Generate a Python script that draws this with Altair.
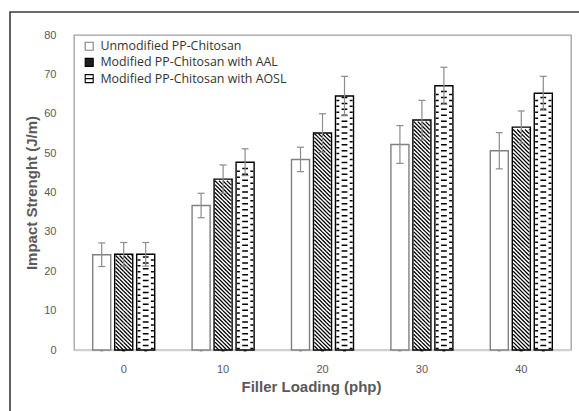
import altair as alt
import pandas as pd

# ---------------- data ----------------
LOADINGS = ["0", "10", "20", "30", "40"]
SERIES = [
    "Unmodified PP-Chitosan",
    "Modified PP-Chitosan with AAL",
    "Modified PP-Chitosan with AOSL",
]
UNMOD = [24.2, 36.7, 48.4, 52.2, 50.6]
AAL = [24.3, 43.4, 55.1, 58.4, 56.6]
AOSL = [24.3, 47.7, 64.5, 67.1, 65.2]
UNMOD_ERR = [3.0, 3.1, 3.1, 4.8, 4.6]
AAL_ERR = [3.0, 3.6, 4.9, 5.0, 4.1]
AOSL_ERR = [3.0, 3.4, 5.0, 4.7, 4.3]
Y_TICKS = [0, 10, 20, 30, 40, 50, 60, 70, 80]

rows = []
for s, vals, errs in zip(SERIES, [UNMOD, AAL, AOSL], [UNMOD_ERR, AAL_ERR, AOSL_ERR]):
    for l, v, e in zip(LOADINGS, vals, errs):
        rows.append({"loading": l, "series": s, "value": v, "lo": v - e, "hi": v + e})
df = pd.DataFrame(rows)

# ---------------- layout ----------------
PLOT_W, PLOT_H = 497, 315
PX_PER_UNIT = PLOT_H / 80.0
X_PAD_IN = 0.376
OFF_PAD_IN = 0.18
STEP = PLOT_W / 5.0
BAND = STEP * (1 - X_PAD_IN)
BAR_W = BAND / (3 - OFF_PAD_IN) * (1 - OFF_PAD_IN)
HALF = BAR_W / 2.0

GRAY = "#595959"


def hatch_path(tile_px, L=0.9):
    h = tile_px / HALF
    segs = []
    x0 = -L - h
    while x0 < L:
        xa, ya = x0, -h / 2
        xb, yb = x0 + h, h / 2
        if xa < -L:
            ya += (-L - xa)
            xa = -L
        if xb > L:
            yb -= (xb - L)
            xb = L
        if xb > xa + 1e-6:
            segs.append(f"M{xa:.3f},{ya:.3f}L{xb:.3f},{yb:.3f}")
        x0 += h
    return "".join(segs)


def dash_path(tile_px):
    h = tile_px / HALF
    ya = -h / 4
    yb = h / 4
    return (f"M-0.32,{ya:.3f}L0.32,{ya:.3f}"
            f"M-0.9,{yb:.3f}L-0.58,{yb:.3f}M0.58,{yb:.3f}L0.9,{yb:.3f}")


HATCH_UNIT = 1.0
DASH_UNIT = 1.5
HATCH = hatch_path(HATCH_UNIT * PX_PER_UNIT)
DASH = dash_path(DASH_UNIT * PX_PER_UNIT)

x_enc = alt.X(
    "loading:N",
    sort=LOADINGS,
    title="Filler Loading (php)",
    scale=alt.Scale(paddingInner=X_PAD_IN, paddingOuter=X_PAD_IN / 2),
    axis=alt.Axis(
        labelAngle=0, ticks=False, domainColor="#d0d0d0", domainWidth=1.3,
        labelPadding=13, titlePadding=5, labelFont="Liberation Sans",
        labelFontSize=11, labelColor=GRAY, titleFont="Liberation Sans",
        titleFontSize=15, titleFontWeight="bold", titleColor=GRAY,
        titleX=237,
    ),
)
xo_enc = alt.XOffset(
    "series:N", sort=SERIES,
    scale=alt.Scale(domain=SERIES, paddingInner=OFF_PAD_IN, paddingOuter=0),
)
YT = "Impact Strenght (J/m)"
y_scale = alt.Scale(domain=[0, 80], nice=False)
y_axis = alt.Axis(
    values=Y_TICKS, tickCount=9, ticks=False, domain=False, grid=False,
    labelOverlap=False, labelPadding=18, titlePadding=4,
    labelFont="Liberation Sans", labelFontSize=11, labelColor=GRAY,
    titleFont="Liberation Sans", titleFontSize=15, titleFontWeight="bold",
    titleColor=GRAY,
)


def Y(field):
    return alt.Y(field, scale=y_scale, axis=y_axis, title=YT)


stroke_scale = alt.Scale(domain=SERIES, range=["#808080", "#000000", "#000000"])
fill_scale = alt.Scale(domain=SERIES, range=["#ffffff", "#1e1e1e", "#ffffff"])
shape_scale = alt.Scale(
    domain=SERIES,
    range=["square", "M-1,-1H1V1H-1Z", "M-1,-1H1V1H-1ZM-1,0H1"],
)

base = alt.Chart(df)

legend_layer = base.transform_calculate(zero="0").mark_point(
    filled=True, size=1
).encode(
    x=x_enc, xOffset=xo_enc,
    y=Y("zero:Q"),
    fill=alt.Fill("series:N", sort=SERIES, scale=fill_scale, title=None),
    stroke=alt.Stroke("series:N", sort=SERIES, scale=stroke_scale, title=None),
    shape=alt.Shape("series:N", sort=SERIES, scale=shape_scale, title=None),
)

bars = base.mark_bar(fill="#ffffff", strokeWidth=0).encode(
    x=x_enc, xOffset=xo_enc, y=Y("value:Q"),
)

hatch = base.transform_filter(
    alt.datum.series == SERIES[1]
).transform_calculate(
    seq=f"sequence({HATCH_UNIT / 2}, datum.value - {HATCH_UNIT / 2 - 0.01}, {HATCH_UNIT})"
).transform_flatten(["seq"]).mark_point(
    shape=HATCH, size=BAR_W * BAR_W, filled=False, color="#000000",
    strokeWidth=1.25, opacity=1,
).encode(
    x=x_enc, xOffset=xo_enc, y=Y("seq:Q"),
)

dashes = base.transform_filter(
    alt.datum.series == SERIES[2]
).transform_calculate(
    seq=f"sequence({DASH_UNIT / 2}, datum.value - {DASH_UNIT / 2 - 0.01}, {DASH_UNIT})"
).transform_flatten(["seq"]).mark_point(
    shape=DASH, size=BAR_W * BAR_W, filled=False, color="#000000",
    strokeWidth=1.5, opacity=1,
).encode(
    x=x_enc, xOffset=xo_enc, y=Y("seq:Q"),
)

outline = base.mark_bar(fillOpacity=0, strokeWidth=1.4).encode(
    x=x_enc, xOffset=xo_enc, y=Y("value:Q"),
    stroke=alt.Stroke("series:N", sort=SERIES, scale=stroke_scale, title=None),
)

err_rule = base.mark_rule(color="#8c8c8c", strokeWidth=1.2).encode(
    x=x_enc, xOffset=xo_enc, y=Y("lo:Q"), y2="hi:Q",
)

caps = base.transform_fold(["lo", "hi"], as_=["end", "pos"]).mark_tick(
    color="#8c8c8c", thickness=1.2, size=7, opacity=1
).encode(
    x=x_enc, xOffset=xo_enc, y=Y("pos:Q"),
)

frame_data = alt.Data(values=[{"k": 0}])
frame = alt.Chart(frame_data).mark_rect(
    fillOpacity=0, stroke="#3a3a3a", strokeWidth=1.6
).encode(
    x=alt.value(-64), x2=alt.value(530), y=alt.value(-23), y2=alt.value(420)
)

chart = alt.layer(
    legend_layer, bars, hatch, dashes, outline, err_rule, caps, frame
).properties(
    width=PLOT_W, height=PLOT_H,
    autosize=alt.AutoSizeParams(type="none"),
    padding={"left": 74, "top": 35, "right": 8, "bottom": 61},
    background="#ffffff",
).configure_view(
    stroke="#a0a0a0", strokeWidth=1.3
).configure_legend(
    orient="none", legendX=9, legendY=5, padding=0,
    labelFont="Open Sans", labelFontSize=12.4, labelColor="#333333",
    labelLimit=400,
    symbolSize=64, symbolStrokeWidth=1.1, rowPadding=3.2, labelOffset=5,
    symbolOpacity=1,
)

chart.save("out.html", embed_options={"renderer": "svg", "actions": False})
